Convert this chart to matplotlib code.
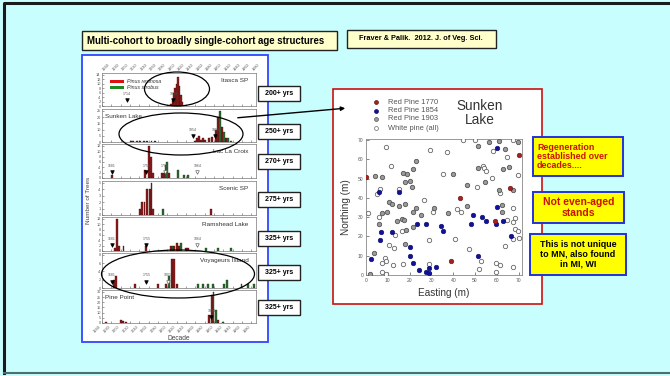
import matplotlib
matplotlib.use('Agg')
import matplotlib.pyplot as plt
from matplotlib.patches import Rectangle, Ellipse
import matplotlib.transforms as mtransforms

W, H = 670, 376
BG = '#C9FEFE'
RED = '#8E1B1B'
GREEN = '#2F6B2F'

# ---- stand age-structure data (decade bars) ----
sites = ['Itasca SP', 'Sunken Lake', 'Lac La Croix', 'Scenic SP', 'Ramshead Lake', 'Voyageurs Island', 'Pine Point']
ages = ['200+ yrs', '250+ yrs', '270+ yrs', '275+ yrs', '325+ yrs', '325+ yrs', '325+ yrs']
ymax = [14, 25, 12, 5, 12, 8, 30]
ystep = [2, 5, 2, 1, 2, 2, 5]

red_years = [
    [1808, 1811, 1814, 1817, 1820, 1823, 1826, 1829, 1832],
    [1722, 1727, 1735, 1741, 1750, 1757, 1766, 1774, 1860, 1864, 1868, 1872, 1876, 1880, 1890, 1895, 1905, 1909, 1918, 1926],
    [1681, 1753, 1760, 1765, 1770, 1789, 1793, 1803],
    [1741, 1746, 1751, 1757, 1762, 1766, 1770, 1894],
    [1688, 1692, 1696, 1706, 1755, 1807, 1815, 1820, 1825, 1840, 1845],
    [1685, 1690, 1730, 1780, 1797, 1810, 1815, 1820],
    [1668, 1700, 1705, 1712, 1890, 1895, 1908],
]
red_counts = [
    [1, 3, 6, 8, 10, 13, 9, 5, 2],
    [1, 1, 1, 1, 1, 1, 1, 1, 1, 3, 5, 2, 3, 2, 3, 4, 10, 20, 12, 3],
    [1, 3, 12, 8, 2, 2, 2, 2],
    [1, 2, 2, 4, 4, 5, 1, 1],
    [1, 12, 2, 2, 2, 2, 2, 3, 2, 1, 1],
    [2, 3, 1, 1, 1, 7, 7, 1],
    [1, 3, 2, 1, 8, 27, 3],
]
green_years = [
    [],
    [1913, 1922, 1930, 1936],
    [1797, 1800, 1822, 1835, 1845],
    [1790],
    [1811, 1830, 1883, 1908, 1937],
    [1803, 1866, 1877, 1887, 1898, 1921, 1927, 1959, 1972, 1986],
    [1899, 1904, 1919],
]
green_counts = [
    [],
    [25, 8, 3, 1],
    [5, 6, 3, 1, 1],
    [1],
    [2, 3, 1, 1, 1],
    [3, 1, 1, 1, 1, 1, 2, 1, 1, 1],
    [30, 13, 1],
]
# date markers: (year, filled?)
markers = [
    [(1714, True), (1813, True)],
    [(1854, True), (1903, True)],
    [(1681, True), (1755, True), (1795, False), (1864, False)],
    [],
    [(1681, True), (1755, True), (1864, False)],
    [(1681, True), (1755, True), (1801, False)],
    [(1894, True)],
]
decades = list(range(1660, 2000, 20))

# ---- Sunken Lake stem map (m) ----
rp1770_x = [0, 70, 43, 66, 59, 39]
rp1770_y = [51, 62, 40, 45, 28, 7.5]
rp1854_x = [60, 6, 15, 49, 53, 55, 60, 63, 59.5, 23.3, 27.3, 34.3, 35.2, 48.2, 6.9, 11.7, 6.3, 20.3, 20, 21.5, 24.5, 27.6, 28.8, 28.8, 32.2, 2.3, 51.5, 66.6]
rp1854_y = [66, 43, 43, 31, 30, 28, 35, 28, 26.5, 26.6, 26.3, 25.6, 23, 26.6, 22.4, 22.1, 18.3, 14.4, 10.1, 6.1, 2.6, 1.7, 3.5, 0.9, 4.3, 8.3, 9.6, 20.3]
rp1903_x = [51.2, 56.4, 60.8, 63.7, 69.8, 23, 16.9, 18.8, 21.5, 4, 7.3, 18, 20.3, 21, 40.1, 46.3, 51.5, 54.6, 60.8, 63, 65.7, 67.5,
            10.4, 11.9, 18, 15, 31, 21.5, 23, 46.2, 62.2, 62.2, 7.3, 9.6, 14.2, 16.5, 17.2, 25.3, 37.8, 5.8, 18.4, 21.5, 18, 3.7, 2]
rp1903_y = [67, 68.8, 69.7, 65.3, 68.8, 59, 52.9, 52.2, 54.7, 51.4, 51, 48.1, 48.6, 45.5, 52.1, 46.4, 55.3, 48.1, 44.3, 55, 56.2, 44.3,
            38.1, 36.9, 36.9, 35.7, 34.7, 32.9, 34.7, 35.7, 36.4, 32.6, 32.1, 32.6, 27.8, 28.9, 28.3, 30.9, 31.9, 26.4, 23.5, 24.9, 16.2, 11.3, 0.5]
wp_x = [9.1, 29.4, 37, 44.4, 50, 58.1, 67.2, 64.5, 11.6, 6.6, 15, 5, 35.2, 50.8, 53.5, 54, 55, 57.6, 61.4, 69.8, 26.4, 30.5, 41.6, 43.6,
        67.2, 68.3, 0.9, 5.8, 64.8, 16.5, 13.1, 28.7, 40.9, 10.5, 12.7, 8.8, 9.3, 7.3, 12.3, 16.9, 29.1, 47, 52.6, 51.8, 63.7, 67.2,
        59.5, 61.4, 59.7, 7.3, 9.3, 67.2, 68.3, 69.5, 70.3, 67.5]
wp_y = [66.6, 64.8, 64, 70, 70, 64.5, 70, 61, 56.4, 44.7, 44.7, 42, 52.1, 45.5, 56.7, 55.5, 54, 50.5, 42.6, 51.9, 39.1, 32.9, 34.3, 32.9,
        34.7, 29.5, 32.1, 30, 28.4, 23, 20.5, 17.9, 18.6, 15.3, 13.9, 9, 7.5, 6.1, 5.2, 5.6, 5.6, 13.6, 7.3, 3, 14.8, 4,
        6.4, 5.2, 1.7, 1.7, 0.5, 18.6, 23.8, 23, 19.1, 27.5]


def px_axes(fig, x0, y0, x1, y1, **kw):
    return fig.add_axes([x0 / W, 1 - y1 / H, (x1 - x0) / W, (y1 - y0) / H], **kw)


plt.rcParams['font.family'] = ['Liberation Sans', 'DejaVu Sans']
fig = plt.figure(figsize=(W / 100, H / 100), dpi=100, facecolor=BG)

# background layer in pixel coordinates
bg = px_axes(fig, 0, 0, W, H, zorder=0)
bg.set_xlim(0, W)
bg.set_ylim(H, 0)
bg.axis('off')
bg.plot([4, 4, 669], [373, 3, 3], color='#1a1a1a', lw=2.2)
bg.plot([4, 669], [373, 373], color='#4f6f6f', lw=1.5)

bg.add_patch(Rectangle((82, 31), 255, 19, fc='#FFFFCC', ec='#222222', lw=1.0))
bg.text(87, 41, 'Multi-cohort to broadly single-cohort age structures', fontsize=6.9, fontweight='bold',
        va='center', ha='left')
bg.add_patch(Rectangle((347, 30), 149, 18, fc='#FFFFCC', ec='#222222', lw=1.0))
bg.text(421, 39, 'Fraver & Palik.  2012. J. of Veg. Sci.', fontsize=5.3, fontweight='bold',
        va='center', ha='center')

# left panel frame
bg.add_patch(Rectangle((82, 55), 186, 287, fc='white', ec='#3344FF', lw=1.3))
# right panel frame
bg.add_patch(Rectangle((333, 89), 209, 215, fc='white', ec='#CC1111', lw=1.2))

# age boxes
age_tops = [86, 124, 154, 192, 231, 265, 300]
for top, lab in zip(age_tops, ages):
    bg.add_patch(Rectangle((258, top), 42, 15, fc='white', ec='#222222', lw=1.0))
    bg.text(279, top + 7.8, lab, fontsize=5.0, fontweight='bold', ha='center', va='center')

# yellow statement boxes
bg.add_patch(Rectangle((533, 137), 90, 39, fc='#FFFF00', ec='#2233DD', lw=1.4))
bg.text(537, 156.5, 'Regeneration\nestablished over\ndecades....', fontsize=6.4, fontweight='bold',
        color='#CC1100', ha='left', va='center', linespacing=1.05)
bg.add_patch(Rectangle((533, 192), 91, 31, fc='#FFFF00', ec='#2233DD', lw=1.4))
bg.text(578.5, 207.5, 'Not even-aged\nstands', fontsize=7.5, fontweight='bold',
        color='#CC1100', ha='center', va='center', linespacing=1.05)
bg.add_patch(Rectangle((530, 234), 96, 41, fc='#FFFF00', ec='#2233DD', lw=1.4))
bg.text(578, 254.5, 'This is not unique\nto MN, also found\nin MI, WI', fontsize=6.4, fontweight='bold',
        color='black', ha='center', va='center', linespacing=1.1)

# ---- histogram panels ----
tops = [73, 109, 144, 181, 217, 253, 290]
bots = [106, 142, 178, 215, 251, 288, 323]
name_right = [True, False, True, True, True, True, False]
tick_gray = '#555555'
hist_axes = []
for i in range(7):
    ax = px_axes(fig, 102, tops[i], 256, bots[i], zorder=2)
    ax.bar(red_years[i], red_counts[i], width=4.0, color=RED, edgecolor='#3a0a0a', lw=0.25, zorder=3)
    if green_years[i]:
        ax.bar(green_years[i], green_counts[i], width=4.0, color=GREEN, edgecolor='#0f300f', lw=0.25, zorder=3)
    ax.set_xlim(1662, 1990)
    ax.set_ylim(0, ymax[i] * 1.06)
    ax.set_yticks(range(0, ymax[i] + 1, ystep[i]))
    ax.set_xticks(decades)
    ax.tick_params(axis='both', direction='in', length=1.5, width=0.4, labelsize=2.8, colors=tick_gray, pad=1)
    ax.set_xticklabels([])
    for s in ax.spines.values():
        s.set_linewidth(0.5)
        s.set_color('#777777')
    if name_right[i]:
        ax.text(0.95, 0.78, sites[i], transform=ax.transAxes, fontsize=4.6, color='#333333', ha='right', va='center')
    else:
        ax.text(0.02, 0.78, sites[i], transform=ax.transAxes, fontsize=4.6, color='#333333', ha='left', va='center')
    trans = mtransforms.blended_transform_factory(ax.transData, ax.transAxes)
    for yr, filled in markers[i]:
        ax.plot(yr, 0.17, marker='v', ms=2.6, transform=trans, mec='black' if filled else '#666666',
                mfc='black' if filled else 'white', mew=0.5, zorder=5, clip_on=False)
        ax.text(yr, 0.3, str(yr), transform=trans, fontsize=2.5, color='#555555', ha='center', va='bottom', zorder=5)
    hist_axes.append(ax)

# legend in first panel
leg_ax = hist_axes[0]
leg_ax.add_patch(Rectangle((0.05, 0.69), 0.09, 0.09, transform=leg_ax.transAxes, fc='#DD1111', ec='none', zorder=4))
leg_ax.add_patch(Rectangle((0.05, 0.51), 0.09, 0.09, transform=leg_ax.transAxes, fc='#228822', ec='none', zorder=4))
leg_ax.text(0.16, 0.735, 'Pinus resinosa', transform=leg_ax.transAxes, fontsize=3.8, style='italic', va='center', color='#333333')
leg_ax.text(0.16, 0.555, 'Pinus strobus', transform=leg_ax.transAxes, fontsize=3.8, style='italic', va='center', color='#333333')

# decade labels top and bottom
top_ax = hist_axes[0]
for d in decades:
    top_ax.text(d, 1.03, str(d), transform=mtransforms.blended_transform_factory(top_ax.transData, top_ax.transAxes),
                rotation=45, fontsize=2.8, color=tick_gray, ha='left', va='bottom')
bot_ax = hist_axes[-1]
bot_ax.set_xticklabels([str(d) for d in decades], rotation=45, ha='right', fontsize=2.8, color=tick_gray)
bot_ax.set_xlabel('Decade', fontsize=4.8, color='#444444', labelpad=1)
bg.text(88, 200, 'Number of Trees', rotation=90, fontsize=4.6, color='#444444', ha='center', va='center')

# ---- Sunken Lake stem map ----
sc = px_axes(fig, 366, 139, 522, 275, zorder=2)
sc.scatter(wp_x, wp_y, s=10, facecolors='white', edgecolors='#666666', linewidths=0.6, zorder=3)
sc.scatter(rp1903_x, rp1903_y, s=10, facecolors='#9a9a9a', edgecolors='#555555', linewidths=0.6, zorder=3)
sc.scatter(rp1854_x, rp1854_y, s=11, facecolors='#111199', edgecolors='#0a0a66', linewidths=0.4, zorder=4)
sc.scatter(rp1770_x, rp1770_y, s=11, facecolors='#A52020', edgecolors='#701010', linewidths=0.4, zorder=4)
sc.set_xlim(0, 71.5)
sc.set_ylim(0, 70.5)
sc.set_xticks(range(0, 80, 10))
sc.set_yticks(range(0, 80, 10))
sc.tick_params(direction='in', length=2, width=0.5, labelsize=3.6, colors='#555555', pad=2)
for s in sc.spines.values():
    s.set_linewidth(0.6)
    s.set_color('#888888')
sc.set_xlabel('Easting (m)', fontsize=7.2, color='#333333', labelpad=4)
sc.set_ylabel('Northing (m)', fontsize=7.2, color='#333333', labelpad=5)

leg_labels = ['Red Pine 1770', 'Red Pine 1854', 'Red Pine 1903', 'White pine (all)']
leg_fc = ['#A52020', '#111199', '#9a9a9a', 'white']
leg_ec = ['#701010', '#0a0a66', '#555555', '#666666']
leg_y = [102, 111, 119, 128]
for lab, fc, ec, y in zip(leg_labels, leg_fc, leg_ec, leg_y):
    bg.scatter([376], [y], s=8, facecolors=fc, edgecolors=ec, linewidths=0.5, zorder=3)
    bg.text(388, y, lab, fontsize=5.4, color='#555555', va='center', ha='left', zorder=3)
bg.text(480, 113, 'Sunken\nLake', fontsize=9.8, color='#333333', ha='center', va='center', linespacing=1.0, zorder=3)

# ---- overlay: ellipses and arrow ----
ov = px_axes(fig, 0, 0, W, H, zorder=10)
ov.set_xlim(0, W)
ov.set_ylim(H, 0)
ov.axis('off')
ov.patch.set_alpha(0)
ov.add_patch(Ellipse((177, 89), 65, 34, fc='none', ec='black', lw=0.9))
ov.add_patch(Ellipse((181, 134), 124, 42, fc='none', ec='black', lw=0.9))
ov.add_patch(Ellipse((178, 274), 153, 48, fc='none', ec='black', lw=0.9))
ov.annotate('', xy=(348, 108), xytext=(235, 118),
            arrowprops=dict(arrowstyle='-|>', color='black', lw=1.0, mutation_scale=6))

fig.savefig('out.png', dpi=100, facecolor=BG)
